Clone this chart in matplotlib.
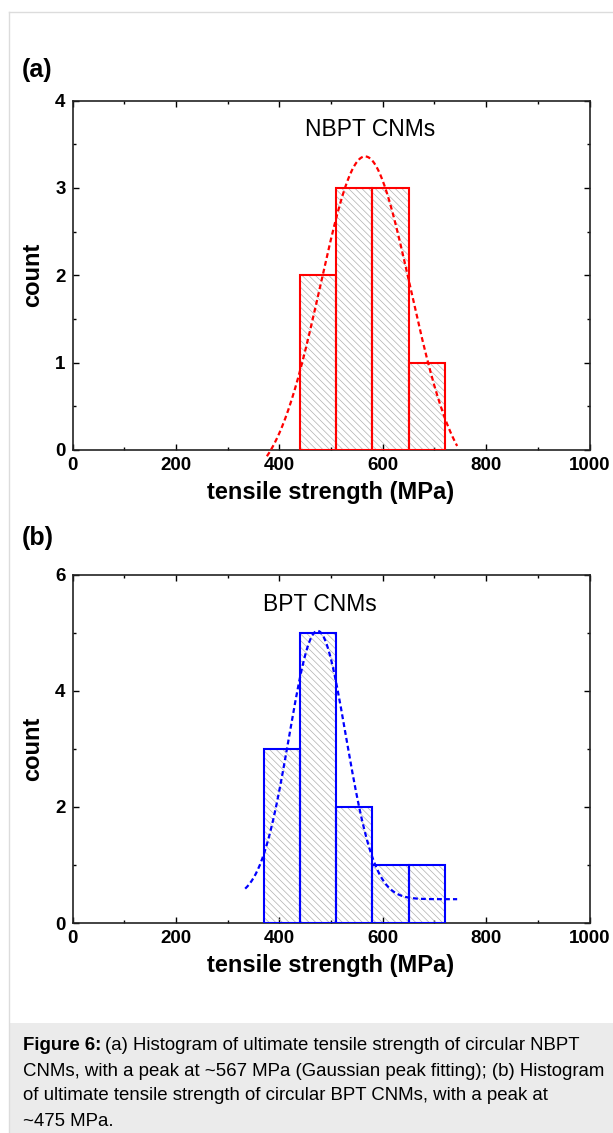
import numpy as np
import matplotlib
matplotlib.use("Agg")
import matplotlib.pyplot as plt
from matplotlib.patches import Rectangle
from matplotlib.ticker import MultipleLocator

plt.rcParams['font.family'] = ['Liberation Sans', 'DejaVu Sans']
plt.rcParams['hatch.linewidth'] = 0.5

# histogram data (bin edges in MPa, counts)
nbpt_edges = [440, 510, 580, 650, 720]
nbpt_counts = [2, 3, 3, 1]
bpt_edges = [370, 440, 510, 580, 650, 720]
bpt_counts = [3, 5, 2, 1, 1]

# gaussian peak fits: centre, sigma, amplitude, offset, x range
nbpt_fit = dict(xc=566, sigma=87, amp=3.78, y0=-0.42, x0=376, x1=744)
bpt_fit = dict(xc=474, sigma=55, amp=4.62, y0=0.41, x0=334, x1=744)

W, H = 613, 1133
fig = plt.figure(figsize=(W / 100, H / 100), dpi=100)


def draw_panel(ax, edges, counts, fit, color, ymax, ymajor, label, label_xy):
    edges = np.asarray(edges, dtype=float)
    left = edges[:-1]
    width = np.diff(edges)
    # hatch fill (grey), then coloured outlines
    ax.bar(left, counts, width=width, align='edge', facecolor='none',
           edgecolor='#b0b0b0', hatch='\\\\\\\\\\', linewidth=0, zorder=2)
    ax.bar(left, counts, width=width, align='edge', facecolor='none',
           edgecolor=color, linewidth=1.5, zorder=3)
    xs = np.linspace(fit['x0'], fit['x1'], 300)
    ys = fit['y0'] + fit['amp'] * np.exp(-(xs - fit['xc']) ** 2 / (2 * fit['sigma'] ** 2))
    ax.plot(xs, ys, color=color, lw=1.6, linestyle=(0, (2.2, 1.4)), zorder=4, clip_on=False)

    ax.set_xlim(0, 1000)
    ax.set_ylim(0, ymax)
    ax.xaxis.set_major_locator(MultipleLocator(200))
    ax.xaxis.set_minor_locator(MultipleLocator(100))
    ax.yaxis.set_major_locator(MultipleLocator(ymajor))
    ax.yaxis.set_minor_locator(MultipleLocator(ymajor / 2))
    ax.tick_params(which='both', direction='in', top=True, right=True, width=1.0)
    ax.tick_params(which='major', length=4, labelsize=13.5)
    ax.tick_params(axis='x', which='major', pad=5)
    ax.tick_params(axis='y', which='major', pad=5)
    ax.tick_params(which='minor', length=2.5)
    for lab in ax.get_xticklabels() + ax.get_yticklabels():
        lab.set_fontweight('bold')
    for sp in ax.spines.values():
        sp.set_linewidth(1.2)
        sp.set_color('#222222')
    ax.set_xlabel('tensile strength (MPa)', fontsize=17, fontweight='bold', labelpad=5)
    ax.set_ylabel('count', fontsize=17, fontweight='bold', labelpad=8)
    ax.text(label_xy[0], label_xy[1], label, transform=ax.transAxes,
            ha='center', va='center', fontsize=16.5)


ax1 = fig.add_axes([72.5 / W, 1 - 450 / H, 517 / W, 349.5 / H])
draw_panel(ax1, nbpt_edges, nbpt_counts, nbpt_fit, '#ff0000', 4, 1,
           'NBPT CNMs', (0.575, 0.918))

ax2 = fig.add_axes([72.5 / W, 1 - 923 / H, 517 / W, 348.5 / H])
draw_panel(ax2, bpt_edges, bpt_counts, bpt_fit, '#0000ff', 6, 2,
           'BPT CNMs', (0.478, 0.915))

fig.text(22 / W, 1 - 70 / H, '(a)', fontsize=18, fontweight='bold', va='center')
fig.text(22 / W, 1 - 538 / H, '(b)', fontsize=18, fontweight='bold', va='center')

# page frame and caption box
fig.add_artist(plt.Line2D([8.5 / W, 8.5 / W], [0, 1 - 12 / H], color='#dcdcdc', lw=1))
fig.add_artist(plt.Line2D([8.5 / W, 1], [1 - 12 / H, 1 - 12 / H], color='#dcdcdc', lw=1))
fig.add_artist(Rectangle((9 / W, 0), 1 - 9 / W, 110 / H, transform=fig.transFigure,
                         facecolor='#ebebeb', edgecolor='none', zorder=0))

cap_lines = [
    "(a) Histogram of ultimate tensile strength of circular NBPT",
    "CNMs, with a peak at ~567 MPa (Gaussian peak fitting); (b) Histogram",
    "of ultimate tensile strength of circular BPT CNMs, with a peak at",
    "~475 MPa.",
]
cap_y = [1046, 1071, 1096, 1121]
renderer = fig.canvas.get_renderer()
bold = fig.text(23 / W, 1 - cap_y[0] / H, 'Figure 6:', fontsize=13.4, fontweight='bold', va='center')
bw = bold.get_window_extent(renderer).width
fig.text((23 + bw + 4) / W, 1 - cap_y[0] / H, cap_lines[0], fontsize=13.4, va='center')
for line, y in zip(cap_lines[1:], cap_y[1:]):
    fig.text(23 / W, 1 - y / H, line, fontsize=13.4, va='center')

fig.savefig('out.png', dpi=100)
